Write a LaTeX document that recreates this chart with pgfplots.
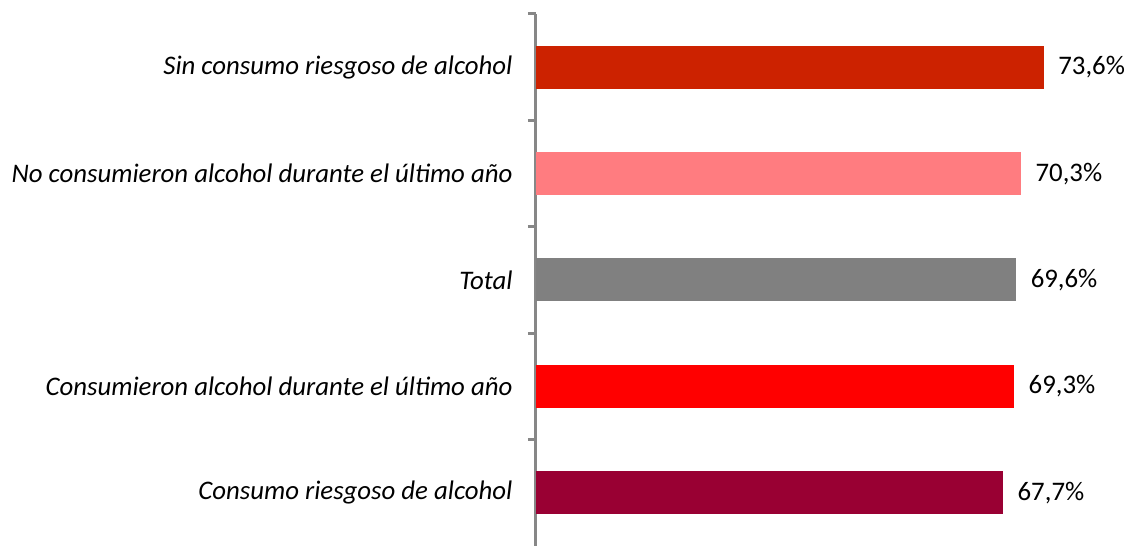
\documentclass[border=0pt]{standalone}
\usepackage{pgfplots}
\pgfplotsset{compat=1.18}
\usepackage{fontspec}
\setmainfont{Carlito}
\definecolor{c1}{HTML}{CC2200}
\definecolor{c2}{HTML}{FF7C80}
\definecolor{c3}{HTML}{808080}
\definecolor{c4}{HTML}{FF0000}
\definecolor{c5}{HTML}{990033}
\definecolor{axisgray}{HTML}{878787}
\begin{document}
\begin{tikzpicture}
\useasboundingbox (-536pt,0pt) rectangle (594pt,546pt);
\begin{axis}[
  at={(0pt,0pt)}, anchor=south west,
  scale only axis, width=552pt, height=532pt,
  xmin=0, xmax=80, ymin=-0.5, ymax=4.5,
  xbar, bar width=43pt, bar shift=0pt,
  axis x line=none, axis y line*=left,
  y axis line style={color=axisgray, line width=3pt},
  ytick={0,1,2,3,4},
  yticklabels={Consumo riesgoso de alcohol, Consumieron alcohol durante el último año, Total, No consumieron alcohol durante el último año, Sin consumo riesgoso de alcohol},
  yticklabel style={font=\fontsize{26.8}{32}\selectfont\itshape, xshift=-20pt},
  major tick length=0pt,
  minor ytick={0.5,1.5,2.5,3.5,4.5},
  minor tick length=8pt,
  tick align=outside,
  minor tick style={color=axisgray, line width=3pt},
  point meta=x,
  nodes near coords={\pgfmathprintnumber[use comma, fixed, precision=1, fixed zerofill, assume math mode=true]{\pgfplotspointmeta}\%},
  nodes near coords style={font=\fontsize{26.8}{32}\selectfont, anchor=west, xshift=11pt, color=black},
  clip=false,
]
\addplot[fill=c5, draw=none] coordinates {(67.7,0)};
\addplot[fill=c4, draw=none] coordinates {(69.3,1)};
\addplot[fill=c3, draw=none] coordinates {(69.6,2)};
\addplot[fill=c2, draw=none] coordinates {(70.3,3)};
\addplot[fill=c1, draw=none] coordinates {(73.6,4)};
\end{axis}
\end{tikzpicture}
\end{document}
